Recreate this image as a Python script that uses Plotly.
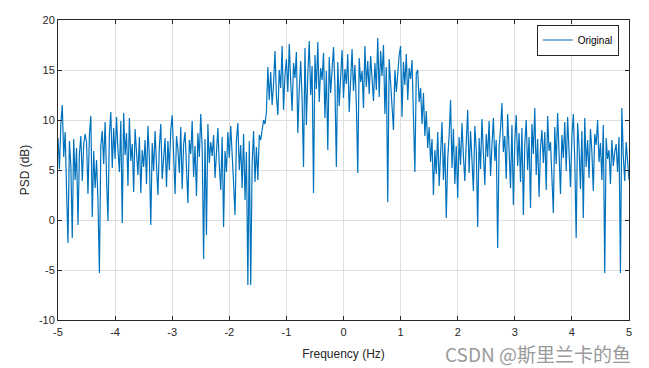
import numpy as np
import plotly.graph_objects as go

# PSD values (dB), 401 samples from -5 Hz to 5 Hz
psd_db = [
    8.2, 5.1, 9.6, 11.5, 6.3, 8.8, 3.0, -2.3, 7.9, 5.4, -1.8, 8.1, 4.0, 7.2, -0.5, 6.6, 8.4, 3.9, 7.5, 8.6,
    7.8, 2.6, 8.5, 10.4, 0.3, 6.9, 3.2, 6.0, 2.0, -5.3, 7.4, 8.9, 5.6, 9.8, 4.3, -0.1, 8.6, 10.8, 5.2, 9.2,
    6.1, 10.3, 7.0, 4.8, 9.9, -0.3, 10.7, 6.5, 8.7, 3.4, 10.2, 5.9, 7.6, 2.8, 9.1, 6.4, 4.5, 8.3, 2.7, 7.0,
    5.3, 8.0, 3.6, 9.4, 6.2, -0.5, 7.7, 4.9, 8.9, 5.5, 2.5, 7.3, 9.6, 4.1, 6.8, 8.2, 3.3, 7.9, 5.0, 9.0,
    10.5, 6.0, 2.6, 8.4, 7.1, 4.7, 9.3, 3.1, 7.6, 8.8, 5.2, 1.7, 8.0, 6.6, 9.9, 4.3, 7.4, 2.4, 8.7, 6.3,
    10.6, 7.2, -3.9, 8.1, -1.5, 9.6, 5.7, 7.8, 6.4, 8.5, 4.2, 7.0, 9.2, 5.5, 3.0, 8.3, -0.7, 6.9, 4.8, 8.8,
    6.2, 9.4, 7.1, 3.7, 0.5, 8.0, 9.7, 5.0, 7.5, 3.2, 8.6, 2.0, 6.8, -6.5, 7.9, -6.5, 5.6, 8.9, 3.8, 7.3,
    4.0, 8.5, 8.0, 9.2, 10.0, 9.6, 10.8, 15.3, 12.0, 14.8, 11.5, 13.6, 16.9, 12.4, 10.5, 15.0, 13.2, 17.4, 11.0, 14.5,
    16.1, 12.8, 17.6, 13.9, 10.9, 15.7, 14.2, 16.8, 8.7, 13.0, 15.9, 12.1, 5.3, 17.2, 9.5, 14.6, 17.9, 12.5, 15.4, 2.7,
    16.5, 13.1, 17.8, 11.8, 15.2, 14.0, 16.7, 10.2, 14.9, 7.0, 16.3, 12.7, 15.6, 17.3, 13.4, 5.3, 15.8, 11.4, 14.3, 17.0,
    12.2, 15.1, 13.6, 16.6, 10.8, 14.7, 17.1, 12.9, 15.5, 11.6, 4.7, 16.2, 13.8, 14.9, 11.2, 17.4, 13.3, 15.9, 12.6, 16.4,
    14.1, 11.9, 15.7, 13.0, 18.2, 12.3, 16.9, 14.4, 17.5, 10.6, 15.3, 1.8, 16.1, 13.7, 11.5, 9.0, 15.0, 12.8, 14.6, 16.5,
    17.4, 10.3, 15.8, 13.5, 16.6, 12.0, 15.2, 14.1, 16.0, 11.4, 4.8, 14.7, 15.0, 11.8, 13.2, 9.6, 12.7, 8.4, 10.9, 7.2,
    9.3, 5.8, 8.1, 2.5, 7.0, 4.6, 8.8, 3.4, 6.5, 9.8, 4.0, 7.7, 0.2, 6.1, 8.5, 12.0, 5.2, 9.1, 3.6, 7.4,
    2.2, 8.3, 5.5, 9.7, 6.4, 3.9, 7.8, 11.0, 4.7, 8.9, 6.0, 2.9, 9.4, 7.1, -0.7, 8.2, 5.1, 10.1, 6.7, 3.5,
    8.6, 6.3, 9.9, 4.4, 7.5, 10.2, 5.9, 8.0, -2.8, 7.3, 9.1, 11.7, 6.8, 8.4, 4.1, 10.6, 7.0, 3.2, 9.5, 1.5,
    7.9, 10.5, 5.4, 8.7, 3.8, 9.2, 0.5, 7.6, 10.0, 5.0, 8.3, 1.2, 9.6, 6.6, 11.2, 4.5, 8.1, 2.3, 7.2, 9.0,
    5.7, 8.8, 3.0, 10.4, 6.9, 7.8, 4.3, 0.7, 9.3, 5.6, 10.7, 7.4, 2.6, 8.5, 6.2, 9.8, 4.9, 10.3, 7.1, 3.3,
    8.4, 10.6, 6.0, -1.8, 9.7, 7.3, 3.1, 8.9, 0.2, 10.2, 5.3, 8.0, 4.2, 9.1, 6.8, 2.9, 8.6, 7.5, 10.0, 5.8,
    7.7, 4.0, 9.5, -5.3, 8.2, 6.1, 7.0, 3.6, 8.0, 5.4, 6.8, 7.6, 4.8, 8.3, -5.3, 11.2, 6.4, 3.9, 7.8, 6.2,
    4.0,
]
freq_hz = np.linspace(-5, 5, len(psd_db))

x_ticks = [-5, -4, -3, -2, -1, 0, 1, 2, 3, 4, 5]
y_ticks = [-10, -5, 0, 5, 10, 15, 20]
series_name = "Original"
x_title = "Frequency (Hz)"
y_title = "PSD (dB)"
watermark = "CSDN @斯里兰卡的鱼"

FONT = "Liberation Sans, Arial, sans-serif"

fig = go.Figure()
fig.add_trace(go.Scatter(
    x=freq_hz, y=psd_db, mode="lines", name=series_name,
    line=dict(color="#0072BD", width=1.2),
))

axis_common = dict(
    showgrid=True, gridcolor="#DFDFDF", gridwidth=1,
    zeroline=False,
    showline=True, linecolor="#262626", linewidth=1, mirror="ticks",
    ticks="inside", ticklen=4, tickcolor="#262626",
    tickfont=dict(family=FONT, size=11, color="#262626"),
    automargin=False,
)

# the page body has an 8px margin, so the figure's margins are offset to compensate
fig.update_layout(
    width=649, height=368,
    paper_bgcolor="white", plot_bgcolor="white",
    margin=dict(l=50, r=28, t=12, b=56),
    font=dict(family=FONT, color="#262626"),
    xaxis=dict(range=[-5, 5], tickvals=x_ticks, ticktext=[str(v) for v in x_ticks],
               ticklabelstandoff=2,
               title=dict(text=x_title, font=dict(size=12, family=FONT), standoff=12),
               **axis_common),
    yaxis=dict(range=[-10, 20], tickvals=y_ticks, ticktext=[str(v) for v in y_ticks],
               title=dict(text=y_title, font=dict(size=12, family=FONT), standoff=6),
               **axis_common),
    showlegend=True,
    legend=dict(x=0.982, y=0.985, xanchor="right", yanchor="top",
                bgcolor="white", bordercolor="#262626", borderwidth=1,
                font=dict(family=FONT, size=10, color="#000000"),
                itemwidth=30, tracegroupgap=0),
)

fig.add_annotation(
    text=watermark, xref="paper", yref="paper",
    x=1.007, y=-0.112, xanchor="right", yanchor="middle", showarrow=False,
    font=dict(family="Noto Sans CJK SC, sans-serif", size=19, color="#9A9A9A"),
)

fig.write_html("out.html")
